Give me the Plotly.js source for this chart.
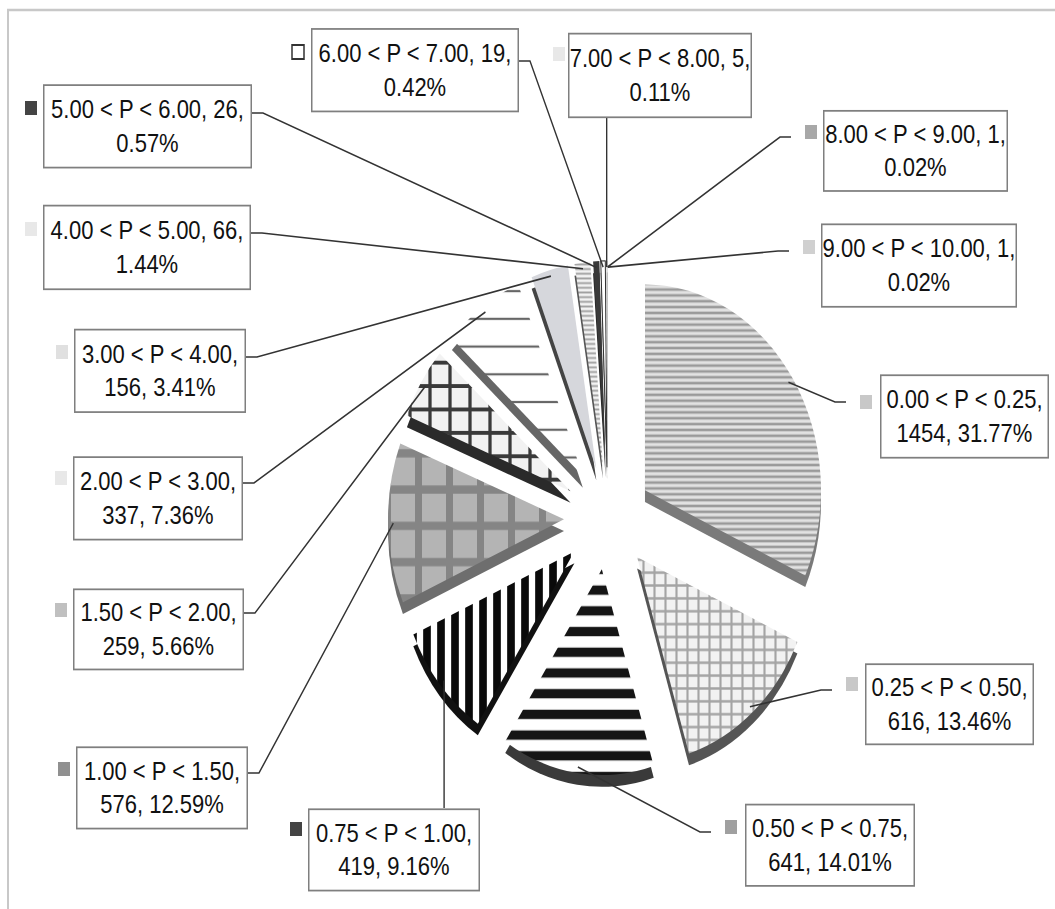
<!DOCTYPE html>
<html>
<head>
<meta charset="utf-8">
<script src="https://cdn.plot.ly/plotly-3.0.1.min.js"></script>
<style>
  html, body { margin: 0; padding: 0; background: #fff; }
  #wrap { width: 1055px; height: 909px; overflow: hidden; position: relative; }
  /* the chart is laid out at 1055x777 and stretched vertically to fill 909px */
  #chart { width: 1055px; height: 777px; transform: scaleY(1.16988); transform-origin: 0 0; }
</style>
</head>
<body>
<div id="wrap"><div id="chart"></div></div>
<script>
// ---- data ----
const ranges = ['0.00 < P < 0.25', '0.25 < P < 0.50', '0.50 < P < 0.75', '0.75 < P < 1.00',
                '1.00 < P < 1.50', '1.50 < P < 2.00', '2.00 < P < 3.00', '3.00 < P < 4.00',
                '4.00 < P < 5.00', '5.00 < P < 6.00', '6.00 < P < 7.00', '7.00 < P < 8.00',
                '8.00 < P < 9.00', '9.00 < P < 10.00'];
const counts = [1454, 616, 641, 419, 576, 259, 337, 156, 66, 26, 19, 5, 1, 1];
const percents = ['31.77%', '13.46%', '14.01%', '9.16%', '12.59%', '5.66%', '7.36%', '3.41%',
                  '1.44%', '0.57%', '0.42%', '0.11%', '0.02%', '0.02%'];

// ---- slice styling ----
const baseColors = ['#c4c4c4', '#d0d0d0', '#8a8a8a', '#555555', '#a8a8a8', '#9a9a9a', '#eeeeee',
                    '#d6d7dc', '#cfcfcf', '#3a3a3a', '#ffffff', '#e2e2e2', '#a8a8a8', '#d0d0d0'];
const sideColors = ['#7a7a7a', '#555555', '#3a3a3a', '#111111', '#6e6e6e', '#2a2a2a', '#666666',
                    '#444444', '#555555', '#222222', '#333333', '#888888', '#777777', '#999999'];
const patShape = ['-', '+', '-', '|', '+', '+', '-', '', '-', '', '', '', '', ''];
const patFg = ['#9a9a9a', '#a4a4a4', '#151515', '#0a0a0a', '#858585', '#3a3a3a', '#666666',
               '#c0c0c8', '#a0a0a0', '#333333', '#333333', '#cccccc', '#999999', '#bbbbbb'];
const patBg = ['#e2e2e2', '#f2f2f2', '#ffffff', '#ffffff', '#b4b4b4', '#f2f2f2', '#ffffff',
               '#d6d7dc', '#f2f2f2', '#3a3a3a', '#ffffff', '#e2e2e2', '#a8a8a8', '#d0d0d0'];
const patSize = [5, 11, 17.7, 14, 31, 20, 23.7, 8, 4, 8, 8, 8, 8, 8];
const patSolid = [0.45, 0.35, 0.45, 0.55, 0.4, 0.3, 0.08, 0.3, 0.4, 0.3, 0.3, 0.3, 0.3, 0.3];
const keyColors = ['#c8c8c8', '#c8c8c8', '#a0a0a0', '#444444', '#909090', '#c0c0c0', '#e8e8e8',
                   '#e0e0e0', '#e8e8e8', '#444444', '#ffffff', '#e8e8e8', '#a8a8a8', '#d0d0d0'];

// ---- label layout (final picture pixels) ----
const boxes = [[880, 374, 1049, 458], [865, 663, 1034, 745], [745, 804, 915, 887], [308, 808, 480, 891],
               [76, 747, 248, 830], [73, 588, 244, 670], [73, 456, 243, 540], [74, 329, 246, 413],
               [43, 205, 251, 290], [43, 84, 252, 168], [311, 28, 519, 112], [568, 33, 752, 118],
               [823, 110, 1008, 192], [821, 224, 1017, 308]];
const keys = [[860, 395], [846, 677], [725, 820], [290, 822], [58, 762], [55, 603], [55, 471],
              [56, 345], [25, 222], [25, 101], [292, 45], [553, 47], [805, 125], [803, 240]];
const leaderSide = ['right', 'right', 'right', 'bottom', 'left', 'left', 'left', 'left',
                    'left', 'left', 'left', 'top', 'right', 'right'];
const leaderY = [402, 690, 832, 0, 773, 613, 483, 357, 233, 113, 61, 0, 137, 251];

const W = 1055, H = 777, SY = 909 / H;
const PULL = 0.25;
const PIE = { cx: 608, cy: 443, size: 440 };   // pie box, layout pixels
const R = PIE.size / 2 / (1 + PULL);

// final-picture pixel -> paper
const pxX = x => x / W;
const pxY = y => 1 - (y / SY) / H;
// layout pixel -> paper
const lyY = y => 1 - y / H;

const total = counts.reduce((a, b) => a + b, 0);
let cum = 0;
const mids = counts.map(c => { const m = (cum + c / 2) / total * 360; cum += c; return m; });

function slicePoint(i, f) {
  const a = mids[i] * Math.PI / 180;
  const d = PULL * R + f * R;
  return [PIE.cx + d * Math.sin(a), PIE.cy - d * Math.cos(a)];
}

const domain = {
  x: [(PIE.cx - PIE.size / 2) / W, (PIE.cx + PIE.size / 2) / W],
  y: [1 - (PIE.cy + PIE.size / 2) / H, 1 - (PIE.cy - PIE.size / 2) / H]
};
const depth = 10 / H;

const sidePie = {
  type: 'pie', values: counts, labels: ranges, sort: false, direction: 'clockwise', rotation: 0,
  pull: counts.map(() => PULL), textinfo: 'none', hoverinfo: 'skip', showlegend: false,
  marker: { colors: sideColors, line: { width: 0 } },
  domain: { x: domain.x, y: [domain.y[0] - depth, domain.y[1] - depth] }
};
const topPie = {
  type: 'pie', values: counts, labels: ranges, sort: false, direction: 'clockwise', rotation: 0,
  pull: counts.map(() => PULL), textinfo: 'none', showlegend: false,
  marker: {
    colors: baseColors,
    line: { width: counts.map((c, i) => i === 10 ? 1 : 0), color: '#333' },
    pattern: { shape: patShape, fgcolor: patFg, bgcolor: patBg, size: patSize, solidity: patSolid }
  },
  domain: domain
};

const esc = s => s.replace(/</g, '&lt;');
const annotations = [];
const shapes = [{
  type: 'rect', xref: 'paper', yref: 'paper', x0: pxX(8), x1: pxX(1062), y0: pxY(920), y1: pxY(10),
  line: { color: '#c8c8c8', width: 2 }, fillcolor: 'rgba(0,0,0,0)', layer: 'below'
}];

ranges.forEach((r, i) => {
  const [x0, y0, x1, y1] = boxes[i];
  const text = counts[i] < 100
    ? esc(r) + ', ' + counts[i] + ',<br>' + percents[i]
    : esc(r) + ',<br>' + counts[i] + ', ' + percents[i];
  const bw = 1.5;
  annotations.push({
    xref: 'paper', yref: 'paper', x: pxX((x0 + x1) / 2), y: pxY((y0 + y1) / 2),
    xanchor: 'center', yanchor: 'middle', showarrow: false, text: text, align: 'center',
    width: (x1 - x0) - 2 * bw, height: (y1 - y0) / SY - 2 * bw,
    bgcolor: '#ffffff', bordercolor: '#7f7f7f', borderwidth: bw, borderpad: 0,
    font: { family: '"Liberation Sans", Arial, sans-serif', size: 22, color: '#111111' }
  });

  // legend key
  const [kx, ky] = keys[i];
  shapes.push({
    type: 'rect', xref: 'paper', yref: 'paper', x0: pxX(kx), x1: pxX(kx + 12), y0: pxY(ky + 14), y1: pxY(ky),
    fillcolor: keyColors[i], line: { width: i === 10 ? 1.5 : 0, color: '#333' }
  });

  // leader line
  const [sx, sy] = slicePoint(i, 0.97);
  const end = [sx / W, lyY(sy)];
  let pts;
  const side = leaderSide[i];
  if (side === 'left') {
    pts = [[pxX(x1), pxY(leaderY[i])], [pxX(x1 + 11), pxY(leaderY[i])], end];
  } else if (side === 'right') {
    pts = [[pxX(kx - 14), pxY(leaderY[i])], [pxX(kx - 25), pxY(leaderY[i])], end];
  } else if (side === 'top') {
    pts = [[end[0], pxY(y1)], end];
  } else {
    pts = [[end[0], pxY(y0)], end];
  }
  shapes.push({
    type: 'path', xref: 'paper', yref: 'paper',
    path: 'M' + pts.map(p => p[0] + ',' + p[1]).join('L'),
    line: { color: '#333333', width: 1.4 }, layer: 'above'
  });
});

const layout = {
  width: W, height: H, margin: { l: 0, r: 0, t: 0, b: 0 },
  paper_bgcolor: '#ffffff', plot_bgcolor: '#ffffff', showlegend: false,
  annotations: annotations, shapes: shapes
};

Plotly.newPlot('chart', [sidePie, topPie], layout, { staticPlot: true, displayModeBar: false });
</script>
</body>
</html>
